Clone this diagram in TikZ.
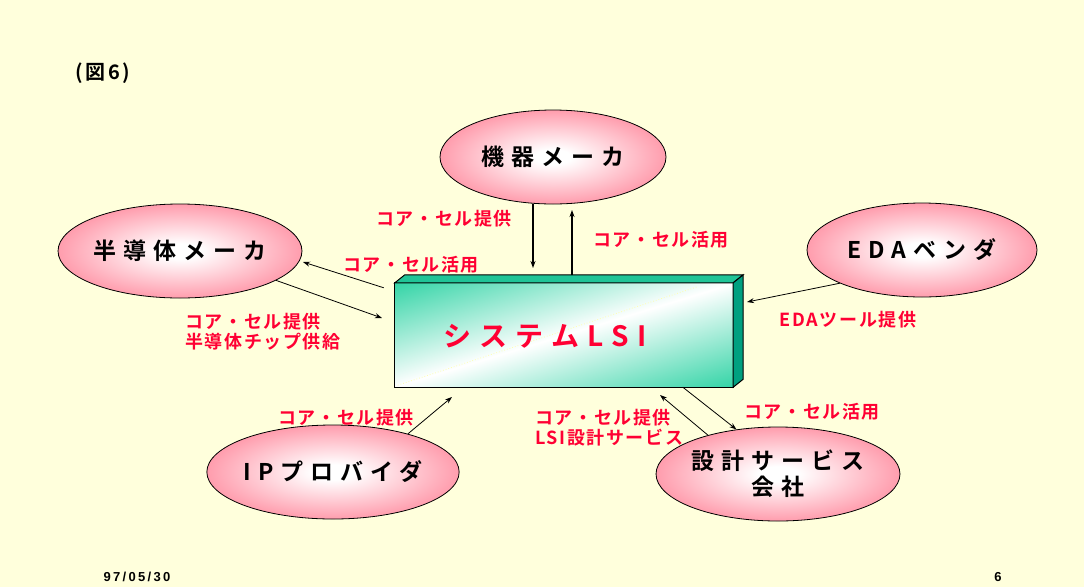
\documentclass[tikz,border=0pt]{standalone}
\usepackage{fontspec}
\usetikzlibrary{shapes.geometric,arrows.meta,calc}
\newfontfamily\jpe[LetterSpace=30,BoldFont={Noto Sans CJK JP Bold}]{Noto Sans CJK JP}
\newfontfamily\jpl[LetterSpace=9,BoldFont={Noto Sans CJK JP Bold}]{Noto Sans CJK JP}
\newfontfamily\jpt[LetterSpace=30,BoldFont={Noto Sans CJK JP Bold}]{Noto Sans CJK JP}
\newfontfamily\jpn[LetterSpace=12,BoldFont={Noto Sans CJK JP Bold}]{Noto Sans CJK JP}
\newfontfamily\ftr[LetterSpace=18]{Liberation Sans}
\definecolor{bgc}{HTML}{FFFFDC}
\definecolor{pinkc}{HTML}{FF7C92}
\definecolor{redc}{HTML}{FF0033}
\definecolor{tealc}{HTML}{2ED3A4}
\definecolor{tealtop}{HTML}{20C497}
\definecolor{tealside}{HTML}{00A080}
\definecolor{lyel}{HTML}{FFFFB0}
\pgfdeclareradialshading{pinkglow}{\pgfpoint{0bp}{0bp}}{color(0bp)=(white); color(4bp)=(white); color(32bp)=(pinkc); color(50bp)=(pinkc)}
\begin{document}
\begin{tikzpicture}[x=1pt,y=-1pt,
  ell/.style={ellipse,draw=black,line width=0.8pt,shade,shading=pinkglow,minimum width=226pt,minimum height=94pt,inner sep=0pt,align=center,font=\jpe\bfseries\fontsize{23}{26}\selectfont},
  lab/.style={text=redc,inner sep=0pt,align=left,font=\jpl\bfseries\fontsize{18}{20}\selectfont},
  arr/.style={draw=black,line width=0.8pt,-{Stealth[length=7pt,width=5pt]}},
  arrb/.style={arr,line width=1.2pt}]
\useasboundingbox (0,0) rectangle (1084,587);
\fill[bgc] (0,0) rectangle (1084,587);

\node[ell] (kiki) at (553,157) {機器メーカ};
\node[ell] (han) at (180,251) {半導体メーカ};
\node[ell,minimum width=230pt] (eda) at (922,250) {EDAベンダ};
\node[ell] (ip) at (333,472) {IPプロバイダ};
\node[ell] (sek) at (778,474) {設計サービス\\会社};

% system LSI block
\node[minimum width=338pt,minimum height=104pt,inner sep=0pt] (lsi) at (564,335) {};
\begin{scope}
  \clip (lsi.north west) rectangle (lsi.south east);
  \begin{scope}[transform canvas={rotate around={17:(lsi.center)}}]
    \shade[top color=tealc,bottom color=tealc,middle color=white]
      ($(lsi.center)+(-230,-102)$) rectangle ($(lsi.center)+(230,102)$);
  \end{scope}
\end{scope}
\draw[dotted,lyel,line width=0.8pt] ($(lsi.south west)+(3,-2)$) -- ($(lsi.north east)+(-36,4)$);
\draw[black,line width=1pt] (lsi.north west) rectangle (lsi.south east);
\draw[black,line width=1pt,fill=tealtop] (lsi.north west) -- ++(10,-8) -- ($(lsi.north east)+(10,-8)$) -- (lsi.north east) -- cycle;
\draw[black,line width=1pt,fill=tealside] (lsi.north east) -- ++(10,-8) -- ($(lsi.south east)+(10,-8)$) -- (lsi.south east) -- cycle;
\node[text=redc,font=\jpt\bfseries\fontsize{28}{32}\selectfont,inner sep=0pt] (lsitext) at (545,336) {システムLSI};

\coordinate (a1) at (533,268);
\draw[arrb] (kiki.south -| a1) -- (a1);
\coordinate (a2) at (572,210);
\draw[arrb] ($(lsi.north -| a2)+(0,-8)$) -- (a2);
\coordinate (a3) at (303,262);
\draw[arr] ($(lsi.north west)+(-11,5)$) -- (a3);
\coordinate (a4) at (382,318);
\draw[arr] (han.-17) -- (a4);
\coordinate (a5) at (747,302);
\draw[arr] (eda.202) -- (a5);
\coordinate (a6) at (452,397);
\draw[arr] (ip.27) -- (a6);
\coordinate (a7) at (660,395);
\draw[arr] (sek.151) -- (a7);
\draw[arr] ($(lsi.south west)+(288,0)$) -- (sek.133);

\node[lab] (l1) at (444,219) {コア・セル提供};
\node[lab] (l2) at (661,240) {コア・セル活用};
\node[lab] (l3) at (411,265) {コア・セル活用};
\node[lab,anchor=west] (l4) at (185,332) {コア・セル提供\\半導体チップ供給};
\node[lab] (l5) at (848,320) {EDAツール提供};
\node[lab] (l6) at (346,418) {コア・セル提供};
\node[lab,anchor=west] (l7) at (535,428) {コア・セル提供\\LSI設計サービス};
\node[lab] (l8) at (812,412) {コア・セル活用};

\node[font=\jpn\bfseries\fontsize{20}{22}\selectfont,inner sep=0pt] (fig) at (103,73) {(図6)};
\node[font=\ftr\bfseries\fontsize{13}{15}\selectfont,inner sep=0pt] (date) at (137,577) {97/05/30};
\node[font=\ftr\bfseries\fontsize{13}{15}\selectfont,inner sep=0pt] (pg) at (998,577) {6};
\end{tikzpicture}
\end{document}
